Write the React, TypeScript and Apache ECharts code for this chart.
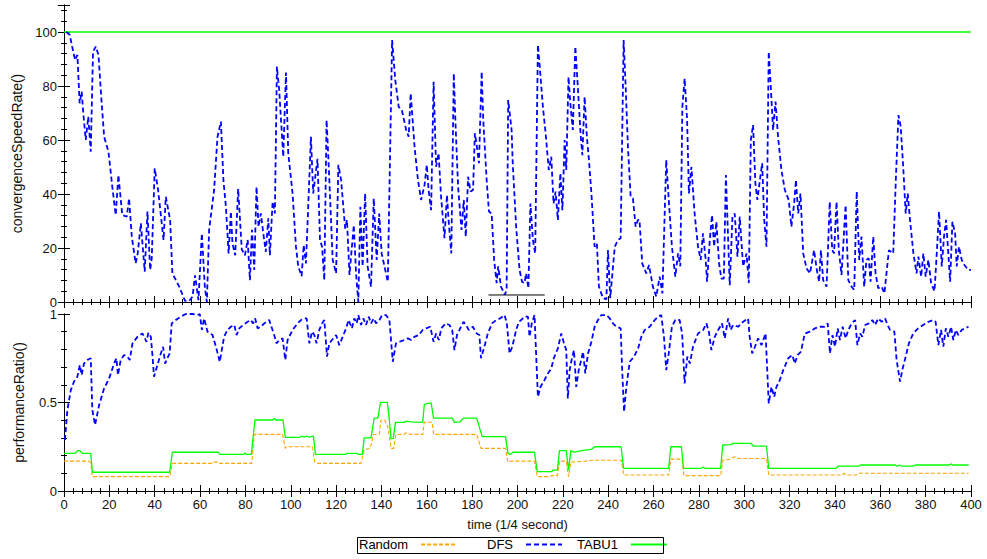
import React, { useEffect, useRef } from "react";
import * as echarts from "echarts";

// x ticks (time, 1/4 second)
const xTicks = [0, 20, 40, 60, 80, 100, 120, 140, 160, 180, 200, 220, 240, 260, 280, 300, 320, 340, 360, 380, 400];

// convergenceSpeedRate() — TABU1
const tabuSpeed: number[][] = [[0, 100], [400, 100]];

// convergenceSpeedRate() — black segment
const blackSpeed: number[][] = [[187.2, 2.6], [212, 2.6]];

// convergenceSpeedRate() — DFS
const dfsSpeed: number[][] = [
  [1, 100], [2.5, 99], [3.5, 95], [4.9, 89.6], [5.9, 91.5], [6.9, 73.6], [7.8, 77.9], [8.5, 70], [9.6, 60], [10.7, 68.6],
  [11.8, 55.7], [12.8, 92.7], [14, 94.6], [15.2, 91.5], [16.5, 75], [17.7, 61.2], [19.6, 55.7], [21.3, 42.7], [22.8, 32.2], [24, 47],
  [25.7, 32.2], [27.7, 31.6], [28.7, 38.4], [29.9, 24.2], [31.6, 14.3], [32.5, 18], [33.9, 29.1], [35.6, 11.2], [36.8, 33.5], [38, 11.9],
  [38.7, 16.2], [40, 49.5], [41.5, 41.5], [43.9, 23], [44.9, 39], [46.8, 30.4], [47.8, 10.6], [50.8, 5.7], [53.4, 0.4], [55.2, 0.4],
  [56.7, 2], [57.8, 9.9], [59.3, 0.7], [60.8, 25.4], [62.1, 5.7], [63, 0], [64, 26.7], [66.2, 41.5], [67.7, 61.2], [69.2, 66.8],
  [70.3, 45.2], [71.4, 35.3], [72.6, 18], [73.6, 33.5], [74.3, 21.7], [75.5, 17.3], [76.8, 41.9], [78.4, 19.5], [79.8, 17.3], [81, 23],
  [82, 8.1], [82.9, 26.7], [83.9, 11.9], [84.9, 42.7], [85.8, 27.9], [86.8, 32.8], [87.9, 25.4], [89, 18.6], [90.1, 31], [90.8, 17.3],
  [92, 37.1], [93, 32.8], [93.9, 87.2], [94.9, 78.5], [96.7, 53.8], [97.9, 85], [98.9, 55.1], [100.8, 40.2], [102.3, 20.5], [103.3, 13.2],
  [104.8, 9.6], [105.7, 21.1], [106.7, 14.3], [107.7, 35.3], [108.9, 61.2], [109.9, 40.2], [111.8, 53], [112.9, 23], [113.8, 20.5], [114.8, 8.1],
  [115.8, 67.4], [116.7, 51.4], [118.5, 15.6], [120, 10.6], [121, 50.8], [122.2, 45.2], [124, 27.2], [124.8, 30.4], [125.9, 10], [127.8, 28.5],
  [128.8, 10.6], [129.8, 0], [130.7, 35.3], [131.7, 13.2], [132.8, 40.2], [133.9, 13.2], [135.4, 5.7], [136.6, 38.4], [137.9, 15.6], [139, 32.8],
  [140.1, 18], [142.8, 7.5], [144.7, 97], [146.1, 82.2], [147.6, 72.3], [149, 71.1], [150.9, 63.7], [152, 61.2], [152.9, 77.3], [154.6, 57.5],
  [156.1, 45.2], [157.5, 37.8], [159, 43.3], [160, 50.8], [160.8, 41.5], [161.9, 34], [163, 81.6], [164.1, 50.1], [165.2, 55.1], [166.3, 39],
  [167.8, 23.6], [168.9, 39.6], [169.6, 30.4], [170.8, 18], [171.9, 84.7], [172.6, 67.4], [173.8, 42.7], [175.3, 26.7], [176.3, 37.8], [177.2, 24.2],
  [178.2, 46.4], [179.3, 40.9], [180.4, 41.5], [181.2, 62.5], [181.9, 58.8], [183, 51.4], [184.2, 85.3], [184.9, 67.4], [186.4, 45.2], [187.4, 33.5],
  [188.6, 32.8], [189.7, 15.6], [190.8, 7], [191.5, 13.2], [192.7, 5.7], [194.4, 2.7], [195.2, 4.5], [195.9, 74.8], [197.4, 63.7], [197.9, 51.4],
  [199.4, 27.9], [200.9, 11.9], [202, 7.5], [203.1, 7], [203.8, 10.6], [204.8, 5.1], [205.7, 36.5], [206.8, 23], [207.8, 18], [209, 95.2],
  [209.7, 88.4], [211.2, 72.3], [212.4, 62.5], [213.8, 48.9], [214.9, 53.8], [215.9, 36.5], [216.8, 40.9], [217.8, 30.4], [218.9, 47.7], [219.8, 34],
  [220.8, 60], [221.5, 48.9], [222.5, 83.4], [223.3, 73.6], [224.4, 63.7], [225.5, 94.6], [226.6, 79.8], [227.8, 62.5], [228.6, 54.4], [229.6, 76],
  [230.6, 61.2], [231.5, 52.6], [232.6, 40.2], [234, 20.5], [235, 21.7], [235.9, 5.7], [237.7, 1.4], [239.2, 1], [239.9, 19.2], [240.9, 1.4],
  [242.9, 20.5], [244.3, 23], [245.5, 23.6], [246.8, 97], [247.7, 79.8], [248.7, 57.5], [249.9, 39], [250.9, 38.4], [252.1, 27.9], [253.1, 30.4],
  [253.8, 30.4], [255, 14.3], [256.8, 10.6], [258, 13.7], [259.7, 5.7], [261.2, 2], [262.7, 9.4], [263.9, 3.2], [265.6, 52.6], [266.8, 36.5],
  [268.1, 20.5], [269.6, 9.4], [270.8, 18], [271.8, 13.2], [272.7, 72.3], [273.7, 82.8], [274.8, 67.4], [275.6, 40.2], [276.7, 50.1], [278.1, 32.8],
  [279.6, 20.5], [280.8, 15.6], [281.8, 25.4], [283, 15.6], [283.6, 7.5], [284.8, 23], [285.8, 32.2], [286.7, 20.5], [287.7, 29.7], [288.9, 14.3],
  [289.9, 8.7], [291, 8.7], [291.9, 47], [292.9, 23], [293.6, 6.2], [294.8, 31.6], [295.8, 32.8], [297, 16.8], [298, 31.6], [299.5, 13.2],
  [301, 18], [302, 7], [302.9, 60], [303.9, 65.6], [304.9, 44], [305.8, 37.8], [306.9, 45.2], [307.9, 51.4], [308.8, 30.4], [309.8, 20.5],
  [310.8, 92.7], [311.7, 79.8], [312.7, 63.7], [313.8, 74.2], [314.9, 61.2], [316.4, 48.9], [317.9, 41.5], [319.6, 37.8], [320.8, 27.9], [322, 36.5],
  [322.8, 45.2], [323.8, 32.8], [324.8, 40.2], [326, 18], [327.5, 12.4], [329, 10.6], [330.8, 19.2], [331.9, 12.4], [333, 7.5], [333.8, 19.2],
  [334.8, 8.1], [336.3, 5.7], [337.7, 37.1], [338.8, 19.2], [339.6, 18], [340.7, 37.1], [341.7, 19.2], [342.9, 10], [344.7, 35.9], [345.9, 8.1],
  [347.3, 5.7], [348.5, 4.5], [349.6, 40.9], [350.7, 15.6], [351.7, 24.2], [352.9, 5.7], [353.9, 15.6], [354.9, 16.2], [355.7, 7.5], [356.9, 24.2],
  [357.9, 10.6], [359.1, 5.1], [360.6, 5.7], [361.8, 3.2], [363.8, 19.2], [365.7, 18], [366.9, 46.4], [368, 69.2], [369, 65], [370.1, 50.1],
  [371.2, 32.8], [372.1, 40.2], [373.1, 30.4], [374.6, 18], [376, 10.6], [376.8, 16.8], [378, 9.4], [379, 18], [380, 9.4], [381.2, 15.6],
  [382.4, 7], [383.9, 4], [384.9, 18], [385.9, 33.5], [387.1, 13.2], [388.1, 24.2], [389, 30.4], [390, 18], [390.8, 7.5], [391.8, 29.7],
  [393, 25.4], [393.7, 13.2], [394.7, 20.5], [395.9, 15.6], [397.1, 13.7], [398.8, 11.9], [400, 11.9],
];

// performanceRatio() — DFS
const dfsPerf: number[][] = [
  [0.4, 0.288], [1.5, 0.458], [3, 0.57], [4.4, 0.618], [5.9, 0.646], [7, 0.712], [7.8, 0.655], [8.8, 0.72], [10.3, 0.74], [11.8, 0.75],
  [12.5, 0.458], [13.7, 0.373], [15.5, 0.486], [17.7, 0.58], [19.9, 0.636], [22.1, 0.72], [23.1, 0.75], [23.8, 0.655], [25, 0.74], [26.5, 0.768],
  [28, 0.759], [29, 0.74], [30.2, 0.834], [32.4, 0.871], [34.6, 0.89], [36.4, 0.843], [37.2, 0.894], [38.3, 0.871], [39, 0.768], [39.7, 0.646],
  [41.2, 0.712], [42.7, 0.777], [43.7, 0.815], [44.6, 0.72], [45.6, 0.75], [46.6, 0.777], [47.5, 0.947], [49.3, 0.966], [51.5, 0.985], [53.7, 1],
  [56.7, 1], [58.9, 0.994], [59.9, 1], [60.8, 0.91], [61.8, 0.975], [63.3, 0.9], [65.5, 0.881], [67, 0.815], [68.7, 0.73], [70.6, 0.871],
  [72.1, 0.91], [73.6, 0.928], [75.1, 0.938], [76.1, 0.881], [77.3, 0.919], [79, 0.938], [81, 0.956], [82.4, 0.966], [83.4, 0.947], [84.3, 0.975],
  [85.4, 0.919], [86.8, 0.928], [88.3, 0.947], [90.5, 0.966], [92.7, 0.881], [93.7, 0.834], [94.9, 0.853], [96.4, 0.862], [97.6, 0.74], [98.6, 0.853],
  [100.8, 0.91], [103, 0.947], [104.5, 0.966], [106, 0.975], [107, 0.975], [108.2, 0.834], [109.4, 0.9], [110.4, 0.881], [111.4, 0.834], [112.6, 0.91],
  [113.8, 0.947], [114.8, 0.966], [116, 0.759], [117, 0.834], [118.2, 0.853], [120, 0.881], [121.4, 0.824], [122.9, 0.871], [124.4, 0.919], [125.5, 0.966],
  [127, 0.919], [128, 0.975], [129.1, 0.947], [129.8, 0.994], [131, 0.938], [132, 0.975], [133.2, 0.938], [134.4, 0.985], [135.4, 0.947], [136.6, 0.975],
  [137.6, 0.947], [139.1, 0.966], [140.3, 0.994], [142, 0.994], [143.5, 0.966], [145, 0.73], [146.4, 0.834], [147.9, 0.843], [150.1, 0.853], [151.6, 0.862],
  [153.1, 0.853], [154.5, 0.871], [156.5, 0.881], [158.2, 0.91], [159.7, 0.919], [161.5, 0.928], [163, 0.843], [164.1, 0.89], [165.3, 0.853], [166.4, 0.919],
  [168.3, 0.947], [170, 0.938], [171.2, 0.91], [172.2, 0.796], [173.3, 0.881], [174.4, 0.91], [176.2, 0.956], [177.3, 0.938], [178.5, 0.91], [180.3, 0.928],
  [182, 0.89], [183.2, 0.881], [183.9, 0.75], [185.4, 0.815], [186.9, 0.89], [188.8, 0.947], [190.6, 0.966], [192.3, 0.975], [194.3, 0.994], [195.3, 0.947],
  [196.5, 0.777], [197.7, 0.815], [199.4, 0.91], [200.6, 0.956], [201.6, 0.966], [203.1, 0.985], [204.6, 0.985], [205.3, 0.871], [206.3, 0.947], [207.5, 0.994],
  [209, 0.532], [210.1, 0.588], [211.9, 0.627], [213.4, 0.664], [214.9, 0.693], [216, 0.75], [217.8, 0.806], [219.3, 0.89], [220.5, 0.834], [221.5, 0.796],
  [222.2, 0.523], [223, 0.683], [224, 0.75], [224.9, 0.796], [225.9, 0.588], [227, 0.683], [228.1, 0.74], [228.9, 0.787], [229.9, 0.664], [231.1, 0.777],
  [232.6, 0.843], [234, 0.928], [235.5, 0.966], [237, 0.994], [239.2, 0.994], [240.7, 0.975], [242.1, 0.947], [243.6, 0.928], [245.5, 0.919], [246.1, 0.702],
  [247, 0.448], [248, 0.588], [249.5, 0.73], [251.4, 0.759], [253.2, 0.806], [254.6, 0.871], [256.1, 0.91], [258.3, 0.928], [260.5, 0.966], [262, 0.985],
  [263.4, 0.994], [264.6, 0.871], [265.6, 0.683], [266.7, 0.777], [268.1, 0.928], [269.6, 0.966], [271.5, 0.966], [272.6, 0.89], [273.7, 0.608], [274.9, 0.759],
  [276, 0.72], [277.4, 0.815], [279.6, 0.89], [281.9, 0.91], [283.3, 0.947], [284.4, 0.9], [285.5, 0.796], [287, 0.871], [288.5, 0.91], [290.2, 0.947],
  [291.4, 0.862], [292.9, 0.975], [294, 0.91], [295.1, 0.938], [297.3, 0.928], [299.5, 0.956], [301.7, 0.975], [302.4, 0.871], [303.5, 0.777], [304.7, 0.815],
  [306.1, 0.862], [307.6, 0.824], [309.4, 0.89], [310.8, 0.495], [312, 0.588], [313.2, 0.532], [314.2, 0.588], [315.7, 0.627], [317.2, 0.683], [319.4, 0.75],
  [321.2, 0.768], [322.3, 0.72], [323.5, 0.768], [325, 0.787], [326.7, 0.89], [328.9, 0.9], [331.2, 0.919], [333.4, 0.928], [335.3, 0.928], [336.8, 0.947],
  [337.8, 0.777], [338.9, 0.881], [340, 0.815], [341.2, 0.919], [342.2, 0.853], [343.4, 0.928], [344.7, 0.862], [345.9, 0.91], [347.4, 0.947], [348.9, 0.966],
  [349.9, 0.824], [351.1, 0.89], [352.1, 0.871], [353.3, 0.938], [355, 0.947], [356.5, 0.966], [357.7, 0.938], [359.1, 0.975], [360.6, 0.956], [362.1, 0.975],
  [363.2, 0.938], [364.3, 0.91], [366.2, 0.9], [367.2, 0.74], [368.7, 0.618], [369.7, 0.683], [371.2, 0.759], [372.6, 0.834], [374.5, 0.89], [376.7, 0.919],
  [378.9, 0.938], [381.2, 0.956], [383.4, 0.966], [384.4, 0.956], [385.6, 0.824], [386.8, 0.91], [387.8, 0.815], [388.9, 0.919], [390, 0.871], [391.2, 0.928],
  [392.2, 0.853], [393.3, 0.91], [394.4, 0.881], [395.9, 0.91], [397.4, 0.919], [398.9, 0.928],
];

// performanceRatio() — TABU1
const tabuPerf: number[][] = [
  [0, 0.213], [5, 0.213], [6, 0.228], [7, 0.228], [8, 0.213], [11.8, 0.213], [12.5, 0.106], [46.6, 0.106], [47.8, 0.219], [68, 0.219],
  [68.8, 0.207], [79.3, 0.207], [79.8, 0.215], [80.4, 0.207], [82.6, 0.207], [84.2, 0.401], [92, 0.401], [92.7, 0.41], [93.4, 0.401], [96.6, 0.401],
  [97.6, 0.303], [104, 0.303], [104.6, 0.31], [106, 0.305], [107, 0.31], [108, 0.305], [110, 0.31], [110.9, 0.207], [124, 0.207], [125, 0.213],
  [129, 0.213], [130, 0.207], [131.6, 0.207], [132.4, 0.3], [135.4, 0.3], [136.8, 0.412], [138.4, 0.412], [139.6, 0.501], [142.6, 0.501], [143.4, 0.412],
  [144.2, 0.296], [145.2, 0.296], [146.2, 0.388], [150, 0.388], [151, 0.395], [153, 0.39], [158.2, 0.388], [158.9, 0.489], [161.9, 0.498], [163, 0.412],
  [171.2, 0.412], [172.2, 0.388], [174.6, 0.39], [176.2, 0.412], [182, 0.412], [184.4, 0.307], [194.7, 0.307], [195.8, 0.213], [197, 0.207], [198, 0.219],
  [207.5, 0.219], [208.7, 0.109], [214.9, 0.109], [215.8, 0.118], [217.6, 0.118], [218.5, 0.228], [221.5, 0.228], [222.5, 0.118], [223.5, 0.228], [225, 0.219],
  [229, 0.23], [232.5, 0.235], [234, 0.25], [245.7, 0.25], [246.8, 0.128], [266.7, 0.128], [267.6, 0.25], [272.3, 0.25], [273.2, 0.128], [281, 0.128],
  [281.8, 0.136], [282.6, 0.128], [289.6, 0.128], [290.5, 0.26], [294, 0.262], [295.2, 0.269], [303, 0.269], [304, 0.254], [309.8, 0.254], [310.8, 0.128],
  [340.5, 0.128], [341.5, 0.141], [350.5, 0.141], [351.3, 0.147], [366.6, 0.147], [367.5, 0.14], [368.5, 0.147], [369.5, 0.14], [371, 0.141], [374.5, 0.141],
  [375.5, 0.147], [390.5, 0.147], [391.2, 0.153], [392, 0.147], [399, 0.147],
];

// performanceRatio() — Random
const randomPerf: number[][] = [
  [0, 0.169], [10.8, 0.169], [11.8, 0.16], [12.5, 0.081], [46.6, 0.081], [47.8, 0.156], [65.5, 0.156], [66, 0.163], [68, 0.163], [68.6, 0.156],
  [82.8, 0.156], [83.9, 0.32], [96.4, 0.32], [97.6, 0.241], [98.6, 0.25], [109.6, 0.25], [110.6, 0.163], [112, 0.156], [131, 0.156], [132.4, 0.235],
  [135, 0.24], [136.5, 0.319], [139, 0.32], [139.8, 0.401], [141.5, 0.4], [142.8, 0.363], [143.6, 0.3], [144.2, 0.241], [145.4, 0.241], [146.4, 0.319],
  [150, 0.32], [151, 0.329], [152.5, 0.32], [158.2, 0.32], [158.9, 0.388], [162.4, 0.388], [163, 0.32], [182, 0.32], [183.9, 0.241], [194.7, 0.241],
  [195.8, 0.163], [197.5, 0.169], [207.5, 0.169], [208.7, 0.081], [214.5, 0.081], [215, 0.087], [217.6, 0.087], [218.5, 0.169], [221.5, 0.169], [222.5, 0.081],
  [223.5, 0.163], [230, 0.169], [232.6, 0.174], [245.8, 0.174], [246.8, 0.09], [266.7, 0.09], [267.6, 0.18], [272.6, 0.18], [273.4, 0.087], [289.6, 0.087],
  [290.6, 0.174], [294, 0.18], [295.8, 0.194], [297.5, 0.184], [309.8, 0.184], [310.8, 0.09], [343, 0.09], [344, 0.1], [345, 0.09], [349.5, 0.09],
  [350.5, 0.1], [399, 0.1],
];

// legend entries
const legendNames = ["Random", "DFS", "TABU1"];

const FONT = "'Liberation Sans', Arial, Helvetica, sans-serif";
const TXT = "#111";

function xAxisDef(grid: number, pos: "bottom" | "top", labels: boolean, name?: string) {
  return {
    type: "value",
    gridIndex: grid,
    position: pos,
    min: xTicks[0],
    max: xTicks[xTicks.length - 1],
    interval: xTicks[1] - xTicks[0],
    name: name ?? "",
    nameLocation: "middle",
    nameGap: 27,
    nameTextStyle: { fontFamily: FONT, fontSize: 13, color: TXT },
    axisLine: { show: true, lineStyle: { color: "#000", width: 1 } },
    axisTick: { show: true, inside: true, length: 6, lineStyle: { color: "#000" } },
    minorTick: { show: true, splitNumber: 5, length: 3, lineStyle: { color: "#000" } },
    axisLabel: { show: labels, margin: 7, fontFamily: FONT, fontSize: 13, color: TXT },
    splitLine: { show: false },
    minorSplitLine: { show: false },
  };
}

function yAxisDef(grid: number, pos: "left" | "right", labels: boolean, max: number, interval: number, name?: string) {
  return {
    type: "value",
    gridIndex: grid,
    position: pos,
    min: 0,
    max,
    interval,
    name: name ?? "",
    nameLocation: "middle",
    nameGap: 38,
    nameTextStyle: { fontFamily: FONT, fontSize: 14, color: TXT },
    axisLine: { show: true, lineStyle: { color: "#000", width: 1 } },
    axisTick: { show: true, inside: true, length: 6, lineStyle: { color: "#000" } },
    minorTick: { show: true, splitNumber: 5, length: 3, lineStyle: { color: "#000" } },
    axisLabel: { show: labels, margin: 7, fontFamily: FONT, fontSize: 13, color: TXT, showMaxLabel: max === 1 },
    splitLine: { show: false },
    minorSplitLine: { show: false },
  };
}

function legendDef(name: string, left: number) {
  return {
    data: [name],
    left,
    top: 538,
    orient: "horizontal",
    align: "right",
    itemWidth: 36,
    itemHeight: 12,
    padding: 0,
    itemStyle: { opacity: 0 },
    textStyle: { fontFamily: FONT, fontSize: 13, color: "#000", padding: [0, 8, 0, 0] },
  };
}

export default function App() {
  const ref = useRef<HTMLDivElement>(null);
  useEffect(() => {
    if (!ref.current) return;
    const chart = echarts.init(ref.current, undefined, { renderer: "svg" });
    const blueStyle = { color: "#0000ff", width: 1.8, type: [5, 3] as number[] };
    const greenStyle = { color: "#00ff00", width: 1.3, type: "solid" };
    const orangeStyle = { color: "#ffa500", width: 1.1, type: [4, 2] as number[] };
    chart.setOption({
      animation: false,
      backgroundColor: "#fff",
      grid: [
        { left: 64, right: 16, top: 5, height: 297 },
        { left: 64, right: 16, top: 314, height: 177 },
      ],
      xAxis: [
        xAxisDef(0, "bottom", false),
        xAxisDef(0, "top", false),
        xAxisDef(1, "bottom", true, "time (1/4 second)"),
        xAxisDef(1, "top", false),
      ],
      yAxis: [
        yAxisDef(0, "left", true, 110, 20, "convergenceSpeedRate()"),
        yAxisDef(0, "right", false, 110, 20),
        yAxisDef(1, "left", true, 1, 0.5, "performanceRatio()"),
        yAxisDef(1, "right", false, 1, 0.5),
      ],
      legend: [
        legendDef(legendNames[0], 359),
        legendDef(legendNames[1], 487),
        legendDef(legendNames[2], 577),
      ],
      graphic: [
        {
          type: "rect",
          shape: { x: 357.5, y: 537.5, width: 306, height: 16 },
          style: { fill: "none", stroke: "#000", lineWidth: 1 },
          z: 100,
        },
      ],
      series: [
        {
          name: "TABU1", type: "line", xAxisIndex: 0, yAxisIndex: 0, data: tabuSpeed,
          symbol: "none", lineStyle: greenStyle, itemStyle: { color: greenStyle.color },
        },
        {
          name: "DFS", type: "line", xAxisIndex: 0, yAxisIndex: 0, data: dfsSpeed,
          symbol: "none", lineStyle: blueStyle, itemStyle: { color: blueStyle.color },
        },
        {
          name: "segment", type: "line", xAxisIndex: 0, yAxisIndex: 0, data: blackSpeed,
          symbol: "none", lineStyle: { color: "#000", width: 1 },
        },
        {
          name: "Random", type: "line", xAxisIndex: 2, yAxisIndex: 2, data: randomPerf,
          symbol: "none", lineStyle: orangeStyle, itemStyle: { color: orangeStyle.color },
        },
        {
          name: "DFS", type: "line", xAxisIndex: 2, yAxisIndex: 2, data: dfsPerf,
          symbol: "none", lineStyle: blueStyle, itemStyle: { color: blueStyle.color },
        },
        {
          name: "TABU1", type: "line", xAxisIndex: 2, yAxisIndex: 2, data: tabuPerf,
          symbol: "none", lineStyle: greenStyle, itemStyle: { color: greenStyle.color },
        },
      ],
    });
    return () => chart.dispose();
  }, []);
  return (
    <div
      ref={ref}
      style={{ position: "absolute", left: 0, top: 0, width: 987, height: 559, background: "#fff" }}
    />
  );
}
